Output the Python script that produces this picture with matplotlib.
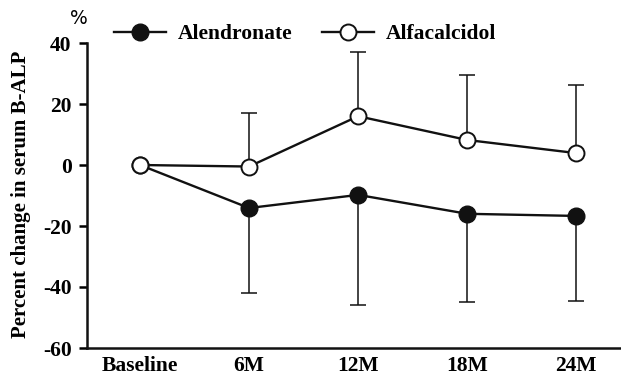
import matplotlib
matplotlib.use("Agg")
import matplotlib.pyplot as plt
import numpy as np

categories = ["Baseline", "6M", "12M", "18M", "24M"]
alendronate = [0, -14.1, -9.8, -16.0, -16.7]
alendronate_err = [0, 28, 36, 29, 28]
alfacalcidol = [0, -0.5, 16.0, 8.2, 3.9]
alfacalcidol_err = [0, 17.5, 21, 21.3, 22.3]
yticks = [-60, -40, -20, 0, 20, 40]

plt.rcParams['font.family'] = ['Liberation Serif', 'DejaVu Serif']
plt.rcParams['font.weight'] = 'bold'

FS = 15.5
fig = plt.figure(figsize=(6.21, 3.81), dpi=100)
ax = fig.add_axes([87/621, 33/381, 1 - 87/621, (348-43)/381])

x = np.arange(len(categories))
ax.errorbar(x[1:], alendronate[1:], yerr=[alendronate_err[1:], [0]*4], fmt='none',
            ecolor='#111111', elinewidth=1.1, capsize=5.5, capthick=1.1, zorder=1)
ax.errorbar(x[1:], alfacalcidol[1:], yerr=[[0]*4, alfacalcidol_err[1:]], fmt='none',
            ecolor='#111111', elinewidth=1.1, capsize=5.5, capthick=1.1, zorder=1)

ax.plot(x, alendronate, '-o', color='#111111', lw=1.7, markersize=12,
        markerfacecolor='#111111', markeredgecolor='#111111', label='Alendronate', zorder=3)
ax.plot(x, alfacalcidol, '-o', color='#111111', lw=1.7, markersize=11.5,
        markerfacecolor='white', markeredgecolor='#111111', markeredgewidth=1.4,
        label='Alfacalcidol', zorder=4)

ax.set_xlim(-0.486, 4.41)
ax.set_ylim(-60, 40)
ax.set_yticks(yticks)
ax.set_yticklabels([str(t) for t in yticks], fontsize=FS, fontweight='bold')
ax.set_xticks(x)
ax.set_xticklabels(categories, fontsize=FS, fontweight='bold')
ax.tick_params(axis='x', length=0, pad=6)
ax.tick_params(axis='y', length=6, width=1.8, direction='out', pad=5)
for s in ['top', 'right']:
    ax.spines[s].set_visible(False)
for s in ['left', 'bottom']:
    ax.spines[s].set_linewidth(1.8)
    ax.spines[s].set_color('#111111')
ax.spines['left'].set_bounds(-60, 40)

ax.set_ylabel('Percent change in serum B-ALP', fontsize=15, fontweight='bold')
ax.yaxis.set_label_coords((31-87)/534, 0.505)
fig.text(79/621, 1 - 19/381, '%', fontsize=13.5, fontweight='normal',
         family=['DejaVu Sans'], ha='center', va='center')

fig.legend(loc='center left', bbox_to_anchor=(114/621, 1 - 34/381), ncol=2, frameon=False,
           fontsize=FS, handlelength=2.4, columnspacing=1.38, handletextpad=0.55,
           borderpad=0, borderaxespad=0)

fig.savefig('out.png', dpi=100)
